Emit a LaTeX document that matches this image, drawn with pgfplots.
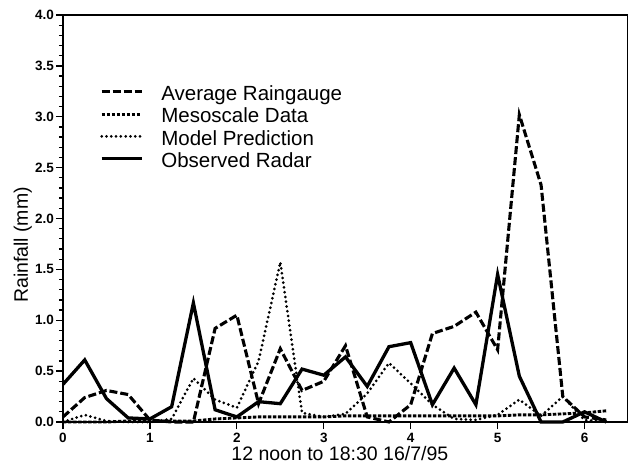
\documentclass[border=0pt]{standalone}
\usepackage{fontspec}
\setmainfont{Liberation Sans}
\usepackage{pgfplots}
\pgfplotsset{compat=1.18}
\usepackage{pgfplotstable}

\pgfplotstableread{
x gauge meso model radar
0.00 0.05 0.00 0.00 0.37
0.25 0.24 0.00 0.07 0.61
0.50 0.31 0.00 0.01 0.23
0.75 0.27 0.01 0.00 0.04
1.00 0.02 0.01 0.00 0.03
1.25 0.00 0.01 0.03 0.15
1.50 0.00 0.01 0.43 1.17
1.75 0.92 0.03 0.22 0.12
2.00 1.05 0.04 0.14 0.05
2.25 0.18 0.05 0.60 0.20
2.50 0.72 0.05 1.57 0.18
2.75 0.31 0.05 0.09 0.52
3.00 0.40 0.05 0.05 0.46
3.25 0.75 0.06 0.08 0.64
3.50 0.05 0.06 0.28 0.35
3.75 0.00 0.06 0.58 0.74
4.00 0.17 0.06 0.38 0.78
4.25 0.87 0.06 0.17 0.17
4.50 0.94 0.06 0.03 0.53
4.75 1.08 0.06 0.02 0.17
5.00 0.71 0.06 0.07 1.45
5.25 3.02 0.07 0.22 0.45
5.50 2.33 0.07 0.06 0.00
5.75 0.25 0.08 0.25 0.00
6.00 0.05 0.09 0.02 0.10
6.25 0.02 0.11 0.00 0.00
}\data

\begin{document}
\begin{tikzpicture}
\begin{axis}[
  width=565pt, height=407pt, scale only axis,
  xmin=0, xmax=6.5, ymin=0, ymax=4,
  xtick={0,1,2,3,4,5,6}, ytick={0,0.5,...,4},
  minor y tick num=4,
  xtick pos=bottom, ytick pos=left,
  tick align=outside,
  major tick length=7pt, minor tick length=4pt,
  every tick/.style={black, line width=1.3pt},
  axis line style={line width=2.4pt},
  clip=false,
  /pgf/number format/assume math mode=true,
  tick label style={font=\fontsize{13.5}{13.5}\selectfont\bfseries, inner sep=0pt},
  yticklabel style={anchor=east, xshift=-2pt, /pgf/number format/fixed, /pgf/number format/fixed zerofill, /pgf/number format/precision=1},
  xticklabel style={anchor=north, yshift=-4pt},
  xlabel={12 noon to 18:30 16/7/95},
  ylabel={Rainfall (mm)},
  label style={font=\fontsize{19.5}{19.5}\selectfont, inner sep=0pt},
  xlabel style={at={(axis description cs:0.49,-0.0946)}, anchor=base},
  ylabel style={at={(axis description cs:-0.062,0.435)}, anchor=base},
  legend style={at={(axis description cs:0.0655,0.8265)}, anchor=north west,
    draw=none, fill=none, inner sep=0pt, outer sep=0pt,
    font=\fontsize{20.5}{20.5}\selectfont, row sep=0pt,
    nodes={inner sep=0pt, text height=15pt, text depth=7.3pt},
    /tikz/column 1/.style={column sep=18pt}},
  legend cell align=left,
  legend image code/.code={\draw[#1] (0pt,5pt) -- (40pt,5pt);},
]
\addplot[black, line width=3.1pt, dash pattern=on 8pt off 3pt] table[x=x, y=gauge] {\data};
\addlegendentry{Average Raingauge}
\addplot[black, line width=2.9pt, dash pattern=on 3.5pt off 1.5pt] table[x=x, y=meso] {\data};
\addlegendentry{Mesoscale Data}
\addplot[black, line width=3pt, line cap=round, dash pattern=on 0pt off 4.8pt] table[x=x, y=model] {\data};
\addlegendentry{Model Prediction}
\addplot[black, line width=3.3pt] table[x=x, y=radar] {\data};
\addlegendentry{Observed Radar}
\end{axis}
\pgfresetboundingbox
\path (-63pt,-43pt) rectangle (565pt,422pt);
\end{tikzpicture}
\end{document}
